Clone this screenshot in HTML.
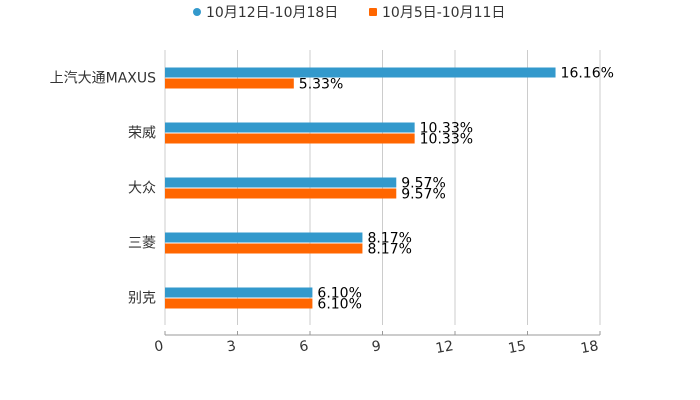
<!DOCTYPE html>
<html><head><meta charset="utf-8"><style>
body{margin:0;background:#fff;}
svg{display:block;font-family:"DejaVu Sans","Noto Sans CJK SC",sans-serif;}
</style></head><body>
<svg id="c" width="700" height="400">
<g id="legend">
<circle cx="197" cy="12" r="4" fill="#3399cc"/>
<text x="206" y="17" font-size="14" fill="#333">10月12日-10月18日</text>
<rect x="369" y="8" width="8" height="8" rx="1" fill="#ff6600"/>
<text x="382" y="17" font-size="14" fill="#333">10月5日-10月11日</text>
</g>
</svg>
<script>
const categories=["上汽大通MAXUS","荣威","大众","三菱","别克"];
const seriesCurrent=[16.16,10.33,9.57,8.17,6.10];
const seriesPrevious=[5.33,10.33,9.57,8.17,6.10];
const ticks=[0,3,6,9,12,15,18];
const svg=document.getElementById('c');
const NS='http://www.w3.org/2000/svg';
const x0=165,x1=600,y0=50,band=55,maxV=18;
const xs=v=>x0+(v/maxV)*(x1-x0);
function mk(t,a){const e=document.createElementNS(NS,t);for(const k in a)e.setAttribute(k,a[k]);svg.appendChild(e);return e;}
ticks.forEach((t,i)=>{
  const g=mk('line',{x1:xs(t),x2:xs(t),y1:y0,y2:y0+band*categories.length,stroke:'#ccc','stroke-width':1});
  
  
  const tk=mk('line',{x1:xs(t),x2:xs(t),y1:331,y2:335,stroke:'#999'});
  
  
  const lb=mk('text',{x:xs(t)-1,y:350,'font-size':14,fill:'#333','text-anchor':'end',transform:`rotate(-10 ${xs(t)-1} 350)`});
  lb.textContent=t;
  
  
});
const ax=mk('line',{x1:x0,x2:x1,y1:335,y2:335,stroke:'#999'});


categories.forEach((c,i)=>{
  const cy=y0+band*i+band/2;
  const l=mk('text',{x:156,y:cy+5,'font-size':14,fill:'#333','text-anchor':'end'});
  l.textContent=c;
  
  
  [[seriesCurrent,'#3399cc',cy-10],[seriesPrevious,'#ff6600',cy+1]].forEach(([s,col,y])=>{
    const b=mk('rect',{x:x0,y:y,width:xs(s[i])-x0,height:10,fill:col});
    
    
    const v=mk('text',{x:xs(s[i])+5,y:y+10,'font-size':14,fill:'#000'});
    v.textContent=s[i].toFixed(2)+'%';
    
    
  });
});
</script>
</body></html>
